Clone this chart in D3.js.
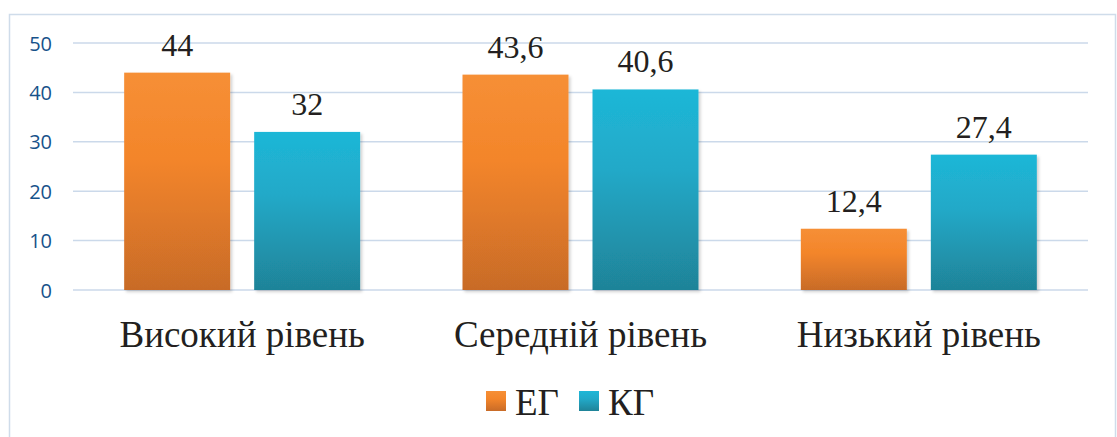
<!DOCTYPE html>
<html><head><meta charset="utf-8">
<script src="https://cdn.jsdelivr.net/npm/d3@7"></script>
<style>body{margin:0;background:#fff}svg{display:block}</style>
</head><body>
<svg id="c" width="1117" height="437"></svg>
<script>
const categories = ["Високий рівень", "Середній рівень", "Низький рівень"];
const seriesNames = ["ЕГ", "КГ"];
const egValues = [44, 43.6, 12.4];
const kgValues = [32, 40.6, 27.4];
const yTicks = [0, 10, 20, 30, 40, 50];

(function () {
const svg = d3.select("#c");
const defs = svg.append("defs");
const grads = [
  {id: "gEG", stops: [["0%", "#f68f36"], ["40%", "#f3852a"], ["100%", "#c86b28"]]},
  {id: "gKG", stops: [["0%", "#1eb7d7"], ["40%", "#22a9c8"], ["100%", "#1f8398"]]}
];
grads.forEach(g => {
  const lg = defs.append("linearGradient").attr("id", g.id).attr("x1", 0).attr("y1", 0).attr("x2", 0).attr("y2", 1);
  g.stops.forEach(s => lg.append("stop").attr("offset", s[0]).attr("stop-color", s[1]));
});
const f = defs.append("filter").attr("id", "sh").attr("x", "-10%").attr("y", "-10%").attr("width", "130%").attr("height", "130%");
f.append("feDropShadow").attr("dx", 2).attr("dy", 2).attr("stdDeviation", 1.5).attr("flood-color", "#000").attr("flood-opacity", 0.18);

const serif = "'Liberation Serif', 'Times New Roman', serif";

// border
svg.append("rect").attr("x", 9.5).attr("y", 14.5).attr("width", 1106).attr("height", 430)
  .attr("fill", "none").attr("stroke", "#cfdcea").attr("stroke-width", 1.5);

const pLeft = 73, pRight = 1088, pTop = 43, pBottom = 290;
const x0 = d3.scaleBand().domain(categories).range([pLeft, pRight]).paddingInner(0).paddingOuter(0);
const y = d3.scaleLinear().domain([0, 50]).range([pBottom, pTop]);

// gridlines
svg.append("g").selectAll("line").data(yTicks).join("line")
  .attr("x1", pLeft).attr("x2", pRight).attr("y1", d => y(d)).attr("y2", d => y(d))
  .attr("stroke", "#cbd9ea").attr("stroke-width", 1.5);

// y axis
const yAxis = d3.axisLeft(y).tickValues(yTicks).tickSize(0).tickPadding(0);
const ya = svg.append("g").attr("transform", "translate(52,0)").call(yAxis)
  .attr("font-size", null).attr("font-family", null);
ya.select(".domain").remove();
ya.selectAll("text")
  .style("font-family", "'Open Sans', 'Liberation Sans', sans-serif")
  .style("font-size", "20px").style("fill", "#17528a").attr("dy", "0.35em");

const barW = 106, gap = 24;
const x1 = d3.scaleBand().domain(seriesNames).range([0, barW * 2 + gap])
  .paddingInner(gap / (barW + gap)).paddingOuter(0);
const data = categories.map((c, i) => ({cat: c, vals: [{s: "ЕГ", v: egValues[i]}, {s: "КГ", v: kgValues[i]}]}));

const grp = svg.append("g").selectAll("g").data(data).join("g")
  .attr("transform", d => `translate(${x0(d.cat) + x0.bandwidth() / 2 - (barW * 2 + gap) / 2},0)`);
grp.selectAll("rect").data(d => d.vals).join("rect")
  .attr("x", d => x1(d.s)).attr("width", x1.bandwidth())
  .attr("y", d => y(d.v)).attr("height", d => y(0) - y(d.v))
  .attr("fill", d => d.s === "ЕГ" ? "url(#gEG)" : "url(#gKG)")
  .attr("filter", "url(#sh)");
grp.selectAll("text").data(d => d.vals).join("text")
  .attr("x", d => x1(d.s) + x1.bandwidth() / 2).attr("y", d => y(d.v) - 17)
  .attr("text-anchor", "middle").style("font-family", serif)
  .style("font-size", "32px").attr("fill", "#231f20")
  .text(d => String(d.v).replace(".", ","));

// category labels
svg.append("g").selectAll("text").data(categories).join("text")
  .attr("x", d => x0(d) + x0.bandwidth() / 2).attr("y", 347)
  .attr("text-anchor", "middle").style("font-family", serif)
  .style("font-size", "37px").attr("fill", "#231f20").text(d => d);

// legend
const legend = [{s: "ЕГ", x: 486, g: "url(#gEG)"}, {s: "КГ", x: 579, g: "url(#gKG)"}];
const lg = svg.append("g").selectAll("g").data(legend).join("g");
lg.append("rect").attr("x", d => d.x).attr("y", 391).attr("width", 20).attr("height", 20).attr("fill", d => d.g);
lg.append("text").attr("x", d => d.x + 29).attr("y", 415)
  .style("font-family", serif).style("font-size", "37px").attr("fill", "#231f20")
  .text(d => d.s);
})();
</script>
</body></html>
